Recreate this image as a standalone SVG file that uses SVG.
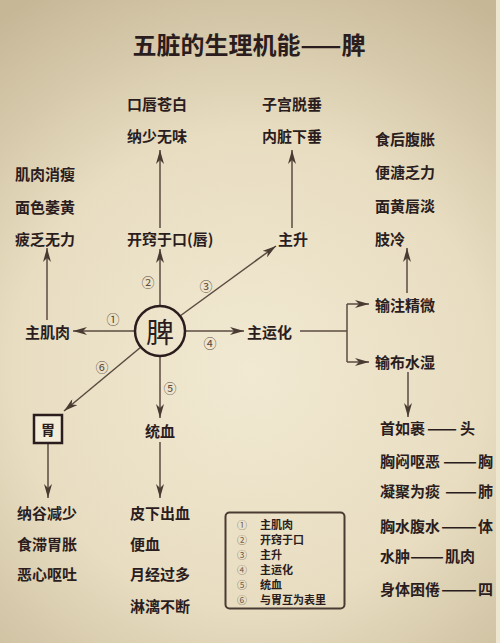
<svg xmlns="http://www.w3.org/2000/svg" width="500" height="643" viewBox="0 0 500 643">
<defs>
<radialGradient id="bg" cx="250" cy="370" r="430" gradientUnits="userSpaceOnUse">
<stop offset="0" stop-color="#f1e9d2"/>
<stop offset="0.55" stop-color="#e8ddc1"/>
<stop offset="1" stop-color="#c6b797"/>
</radialGradient>
<marker id="ah" markerUnits="userSpaceOnUse" markerWidth="14" markerHeight="8" refX="14" refY="4" orient="auto">
<path d="M0,0 L14,4 L0,8 L4,4 Z" fill="#4a3b32"/>
</marker>
<style>
.t{font-family:"Noto Sans CJK SC","Noto Sans",sans-serif;font-weight:bold;fill:#2b1d1d;dominant-baseline:central}
.l{font-size:15px}
.n{font-family:"Noto Sans CJK SC","Noto Sans",sans-serif;font-size:13px;fill:#5b4b40;dominant-baseline:central;text-anchor:middle}
.ln{stroke:#5b4b40;stroke-width:1.5;fill:none}
.ar{stroke:#5b4b40;stroke-width:1.5;fill:none;marker-end:url(#ah)}
.lg{font-size:11px}
.lgn{font-family:"Noto Sans CJK SC","Noto Sans",sans-serif;font-size:10px;fill:#6a5a4e;dominant-baseline:central;text-anchor:middle}
</style>
</defs>
<rect x="0" y="0" width="500" height="643" fill="url(#bg)"/>
<rect x="496" y="0" width="4" height="643" fill="#efe6d0"/>

<g id="title"><text class="t" x="249" y="43" font-size="24" text-anchor="middle">五脏的生理机能——脾</text></g>

<g id="connectors">
<line class="ar" x1="160" y1="306" x2="160" y2="249"/>
<line class="ar" x1="160" y1="228" x2="160" y2="150"/>
<line class="ar" x1="180" y1="316" x2="276" y2="246"/>
<line class="ar" x1="292" y1="228" x2="292" y2="150"/>
<line class="ar" x1="135" y1="331" x2="73" y2="331"/>
<line class="ar" x1="47" y1="320" x2="47" y2="248"/>
<line class="ar" x1="185" y1="331" x2="244" y2="331"/>
<polyline class="ln" points="300,331 347,331"/>
<polyline class="ln" points="347,304 347,362"/>
<line class="ar" x1="347" y1="304" x2="369" y2="304"/>
<line class="ar" x1="347" y1="362" x2="369" y2="362"/>
<line class="ar" x1="407" y1="293" x2="407" y2="248"/>
<line class="ar" x1="408" y1="372" x2="408" y2="417"/>
<line class="ar" x1="141" y1="347" x2="64" y2="411"/>
<line class="ar" x1="160" y1="356" x2="160" y2="418"/>
<line class="ar" x1="160" y1="442" x2="160" y2="498"/>
<line class="ar" x1="48" y1="443" x2="48" y2="498"/>
</g>

<g id="nums">
<text class="n" x="113" y="318">①</text>
<text class="n" x="148" y="281">②</text>
<text class="n" x="206" y="285">③</text>
<text class="n" x="210" y="342">④</text>
<text class="n" x="170" y="387">⑤</text>
<text class="n" x="102" y="366">⑥</text>
</g>

<g id="spleen">
<circle cx="160" cy="331" r="25" fill="none" stroke="#2b1d1d" stroke-width="2.5"/>
<text x="160" y="331" font-family="Noto Sans CJK SC,sans-serif" font-size="28" fill="#2b1d1d" text-anchor="middle" dominant-baseline="central">脾</text>
</g>

<g id="mouth">
<text class="t l" x="127" y="103">口唇苍白</text>
<text class="t l" x="127" y="135">纳少无味</text>
<text class="t l" x="127" y="238">开窍于口(唇)</text>
</g>

<g id="rise">
<text class="t l" x="262" y="103">子宫脱垂</text>
<text class="t l" x="262" y="135">内脏下垂</text>
<text class="t l" x="278" y="238">主升</text>
</g>

<g id="muscle">
<text class="t l" x="15" y="173">肌肉消瘦</text>
<text class="t l" x="15" y="206">面色萎黄</text>
<text class="t l" x="15" y="238">疲乏无力</text>
<text class="t l" x="25" y="331">主肌肉</text>
</g>

<g id="transport">
<text class="t l" x="247" y="331">主运化</text>
<text class="t l" x="375" y="304">输注精微</text>
<text class="t l" x="375" y="361">输布水湿</text>
<text class="t l" x="375" y="138">食后腹胀</text>
<text class="t l" x="375" y="171">便溏乏力</text>
<text class="t l" x="375" y="205">面黄唇淡</text>
<text class="t l" x="375" y="238">肢冷</text>
</g>

<g id="damp">
<text class="t l" x="380" y="427">首如裹</text><text class="t l" x="427" y="427" textLength="30" lengthAdjust="spacingAndGlyphs">——</text><text class="t l" x="460" y="427">头</text>
<text class="t l" x="380" y="460">胸闷呕恶</text><text class="t l" x="443" y="460" textLength="34" lengthAdjust="spacingAndGlyphs">——</text><text class="t l" x="478" y="460">胸</text>
<text class="t l" x="380" y="490">凝聚为痰</text><text class="t l" x="445" y="490" textLength="32" lengthAdjust="spacingAndGlyphs">——</text><text class="t l" x="478" y="490">肺</text>
<text class="t l" x="380" y="525">胸水腹水</text><text class="t l" x="441" y="525" textLength="36" lengthAdjust="spacingAndGlyphs">——</text><text class="t l" x="478" y="525">体</text>
<text class="t l" x="380" y="555">水肿</text><text class="t l" x="410" y="555" textLength="34" lengthAdjust="spacingAndGlyphs">——</text><text class="t l" x="445" y="555">肌肉</text>
<text class="t l" x="380" y="588">身体困倦</text><text class="t l" x="441" y="588" textLength="36" lengthAdjust="spacingAndGlyphs">——</text><text class="t l" x="478" y="588">四</text>
</g>

<g id="stomach">
<rect x="34" y="415" width="28" height="28" fill="#f3ecd8" stroke="#2b1d1d" stroke-width="2.5"/>
<text class="t" x="48" y="429" font-size="14" text-anchor="middle">胃</text>
<text class="t l" x="17" y="512">纳谷减少</text>
<text class="t l" x="17" y="543">食滞胃胀</text>
<text class="t l" x="17" y="573">恶心呕吐</text>
</g>

<g id="blood">
<text class="t l" x="145" y="430">统血</text>
<text class="t l" x="130" y="512">皮下出血</text>
<text class="t l" x="130" y="543">便血</text>
<text class="t l" x="130" y="573">月经过多</text>
<text class="t l" x="130" y="605">淋漓不断</text>
</g>

<g id="legend">
<rect x="225.5" y="512.5" width="119" height="96" rx="4" fill="none" stroke="#4a3b32" stroke-width="2"/>
<text class="lgn" x="242" y="524">①</text><text class="t lg" x="260" y="524">主肌肉</text>
<text class="lgn" x="242" y="539">②</text><text class="t lg" x="260" y="539">开窍于口</text>
<text class="lgn" x="242" y="554">③</text><text class="t lg" x="260" y="554">主升</text>
<text class="lgn" x="242" y="569">④</text><text class="t lg" x="260" y="569">主运化</text>
<text class="lgn" x="242" y="584">⑤</text><text class="t lg" x="260" y="584">统血</text>
<text class="lgn" x="242" y="599">⑥</text><text class="t lg" x="260" y="599">与胃互为表里</text>
</g>
</svg>
